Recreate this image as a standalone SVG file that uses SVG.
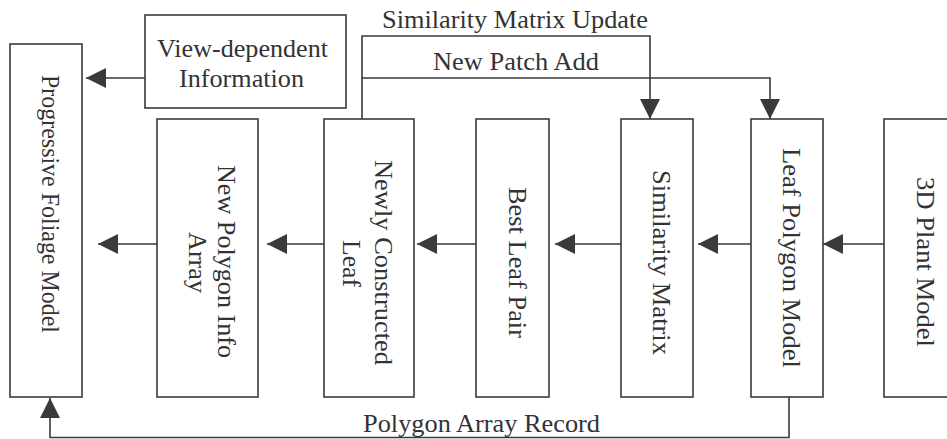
<svg xmlns="http://www.w3.org/2000/svg" width="947" height="439" viewBox="0 0 947 439">
<style>
.box{fill:#fff;stroke:#3a3a3c;stroke-width:1.6}
.ln{fill:none;stroke:#3a3a3c;stroke-width:1.6}
text{font-size:25px;fill:#333335}
</style>
<defs>
<marker id="ah" viewBox="0 0 20 20" refX="20" refY="10" markerWidth="20" markerHeight="20" markerUnits="userSpaceOnUse" orient="auto">
<path d="M0,0 L20,10 L0,20 z" fill="#3a3a3c"/>
</marker>
</defs>
<rect width="947" height="439" fill="#fff"/>
<g font-family="Liberation Serif, Times New Roman, Tinos, serif">
<g id="connectors">
<path class="ln" d="M145,78 H86" marker-end="url(#ah)"/>
<path class="ln" d="M157,244 H98" marker-end="url(#ah)"/>
<path class="ln" d="M324,244 H267" marker-end="url(#ah)"/>
<path class="ln" d="M476,244 H417" marker-end="url(#ah)"/>
<path class="ln" d="M621,244 H555" marker-end="url(#ah)"/>
<path class="ln" d="M751,244 H698" marker-end="url(#ah)"/>
<path class="ln" d="M884,244 H823" marker-end="url(#ah)"/>
<path class="ln" d="M362,119 V36 H650 V119" marker-end="url(#ah)"/>
<path class="ln" d="M362,78 H770 V119" marker-end="url(#ah)"/>
<path class="ln" d="M789,397 V437.5 H50 V398" marker-end="url(#ah)"/>
<text x="382" y="28" textLength="266" lengthAdjust="spacingAndGlyphs">Similarity Matrix Update</text>
<text x="433" y="70" textLength="166" lengthAdjust="spacingAndGlyphs">New Patch Add</text>
<text x="363" y="432" textLength="237" lengthAdjust="spacingAndGlyphs">Polygon Array Record</text>
</g>
<g id="foliage">
<rect class="box" x="10" y="44" width="72" height="353"/>
<text transform="translate(42,0) rotate(90)" x="75" y="0" textLength="258" lengthAdjust="spacingAndGlyphs">Progressive Foliage Model</text>
</g>
<g id="view">
<rect class="box" x="145" y="15" width="201" height="93"/>
<text x="157" y="57" textLength="171" lengthAdjust="spacingAndGlyphs">View-dependent</text>
<text x="179" y="87" textLength="125" lengthAdjust="spacingAndGlyphs">Information</text>
</g>
<g id="npia">
<rect class="box" x="157" y="119" width="101" height="278"/>
<text transform="translate(218,0) rotate(90)" x="165" y="0" textLength="193" lengthAdjust="spacingAndGlyphs">New Polygon Info</text>
<text transform="translate(189,0) rotate(90)" x="232" y="0" textLength="61" lengthAdjust="spacingAndGlyphs">Array</text>
</g>
<g id="ncl">
<rect class="box" x="324" y="119" width="90" height="278"/>
<text transform="translate(375,0) rotate(90)" x="160" y="0" textLength="205" lengthAdjust="spacingAndGlyphs">Newly Constructed</text>
<text transform="translate(343,0) rotate(90)" x="240" y="0" textLength="47" lengthAdjust="spacingAndGlyphs">Leaf</text>
</g>
<g id="blp">
<rect class="box" x="476" y="119" width="73" height="278"/>
<text transform="translate(509,0) rotate(90)" x="187" y="0" textLength="151" lengthAdjust="spacingAndGlyphs">Best Leaf Pair</text>
</g>
<g id="sm">
<rect class="box" x="621" y="119" width="72" height="278"/>
<text transform="translate(653,0) rotate(90)" x="170" y="0" textLength="185" lengthAdjust="spacingAndGlyphs">Similarity Matrix</text>
</g>
<g id="lpm">
<rect class="box" x="751" y="119" width="72" height="278"/>
<text transform="translate(783,0) rotate(90)" x="148" y="0" textLength="220" lengthAdjust="spacingAndGlyphs">Leaf Polygon Model</text>
</g>
<g id="plant">
<rect class="box" x="884" y="119" width="75" height="278"/>
<text transform="translate(917,0) rotate(90)" x="177" y="0" textLength="170" lengthAdjust="spacingAndGlyphs">3D Plant Model</text>
</g>
</g>
</svg>
